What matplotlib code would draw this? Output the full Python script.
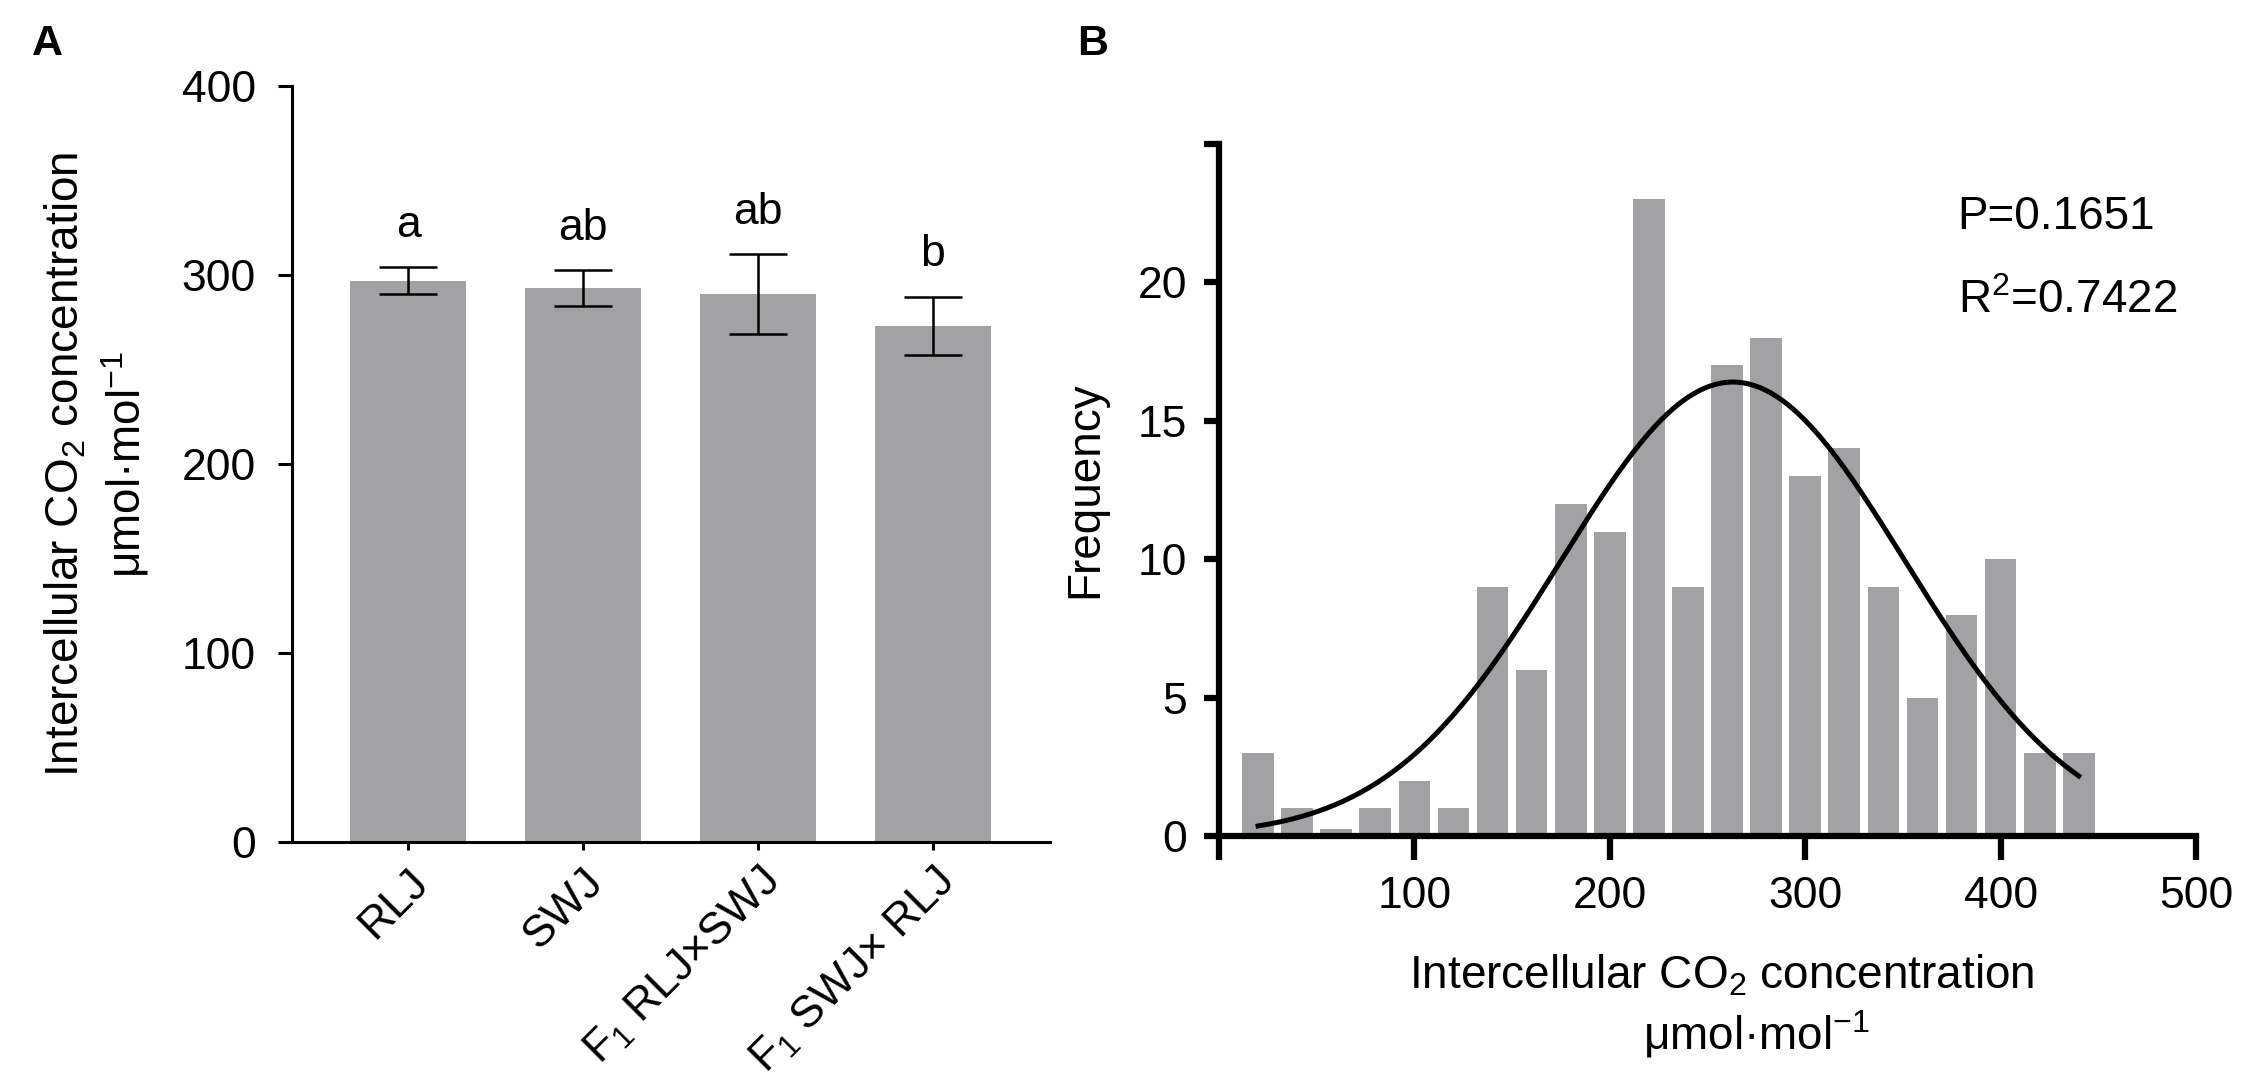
import numpy as np
import matplotlib
matplotlib.use("Agg")
import matplotlib.pyplot as plt
import matplotlib.transforms as mtrans

plt.rcParams['font.family'] = ['Liberation Sans', 'DejaVu Sans']
plt.rcParams['mathtext.fontset'] = 'custom'
plt.rcParams['mathtext.rm'] = 'Liberation Sans'
plt.rcParams['mathtext.it'] = 'Liberation Sans:italic'
plt.rcParams['mathtext.bf'] = 'Liberation Sans:bold'

# panel A: means, errors and letters
groups = ['RLJ', 'SWJ', 'F$_1$ RLJ×SWJ', 'F$_1$ SWJ× RLJ']
means = [297, 293, 290, 273]
errs = [7, 9.5, 21, 15.5]
letters = ['a', 'ab', 'ab', 'b']

# panel B: histogram (bin centres, counts) and gaussian fit
bin_centers = [20, 40, 60, 80, 100, 120, 140, 160, 180, 200, 220,
               240, 260, 280, 300, 320, 340, 360, 380, 400, 420, 440]
counts = [3, 1, 0.25, 1, 2, 1, 9, 6, 12, 11, 23,
          9, 17, 18, 13, 14, 9, 5, 8, 10, 3, 3]
fit_amp, fit_mu, fit_sigma = 16.4, 263, 88
fit_range = (20, 440)
p_text = 'P=0.1651'
r2_text = 'R$^2$=0.7422'
xlab1 = 'Intercellular CO$_2$ concentration'
xlab2 = 'μmol·mol$^{-1}$'

bar_color = '#a2a2a5'
W, H = 2243, 1078
fig = plt.figure(figsize=(W / 100, H / 100), dpi=100)

# ---------- panel A ----------
axA = fig.add_axes([292 / W, 1 - 842 / H, (1050 - 292) / W, (842 - 86) / H])
x = np.arange(len(groups))
axA.bar(x, means, width=0.663, color=bar_color, zorder=1)
axA.errorbar(x, means, yerr=errs, fmt='none', ecolor='black',
             elinewidth=1.8, capsize=21, capthick=1.8, zorder=2)
for xi, m, e, l in zip(x, means, errs, letters):
    axA.text(xi, m + e + 16, l, ha='center', va='baseline', fontsize=32)
axA.set_xlim(-0.663, 3.669)
axA.set_ylim(0, 400)
axA.set_yticks([0, 100, 200, 300, 400])
axA.set_xticks(x)
axA.set_xticklabels(groups, rotation=45, ha='right', va='top',
                    rotation_mode='anchor', fontsize=32)
off = mtrans.ScaledTranslation(2 / 100, 0, fig.dpi_scale_trans)
for lab in axA.get_xticklabels():
    lab.set_transform(lab.get_transform() + off)
for s in ['top', 'right']:
    axA.spines[s].set_visible(False)
for s in ['left', 'bottom']:
    axA.spines[s].set_linewidth(2.2)
axA.tick_params(axis='y', labelsize=32, width=2.2, length=10, pad=16)
axA.tick_params(axis='x', width=2.2, length=6, pad=8)
axA.set_ylabel('Intercellular CO$_2$ concentration\nμmol·mol$^{-1}$',
               fontsize=33, linespacing=1.25, labelpad=22)
fig.text(47 / W, 1 - 44 / H, 'A', fontsize=31, fontweight='bold',
         ha='center', va='center')

# ---------- panel B ----------
axB = fig.add_axes([1219 / W, 1 - 836 / H, (2196 - 1219) / W, (836 - 144) / H])
axB.bar(bin_centers, counts, width=16.2, color=bar_color, zorder=1)
xf = np.linspace(fit_range[0], fit_range[1], 300)
yf = fit_amp * np.exp(-(xf - fit_mu) ** 2 / (2 * fit_sigma ** 2))
axB.plot(xf, yf, color='black', lw=3.6, zorder=2)
axB.set_xlim(0, 500)
axB.set_ylim(0, 25)
axB.set_xticks([0, 100, 200, 300, 400, 500])
axB.set_xticklabels(['', '100', '200', '300', '400', '500'])
axB.set_yticks([0, 5, 10, 15, 20, 25])
axB.set_yticklabels(['0', '5', '10', '15', '20', ''])
for s in ['top', 'right']:
    axB.spines[s].set_visible(False)
for s in ['left', 'bottom']:
    axB.spines[s].set_linewidth(4.5)
axB.tick_params(axis='y', labelsize=32, width=4.5, length=11, pad=12)
axB.tick_params(axis='x', labelsize=32, width=4.5, length=17, pad=12)
axB.set_ylabel('Frequency', fontsize=33, labelpad=22)
axB.text(0.515, -0.2197, xlab1, transform=axB.transAxes, fontsize=33,
         ha='center', va='baseline')
axB.text(0.55, -0.309, xlab2, transform=axB.transAxes, fontsize=33,
         ha='center', va='baseline')
axB.text(378, 21.93, p_text, fontsize=33, va='baseline', ha='left')
axB.text(378, 18.9, r2_text, fontsize=33, va='baseline', ha='left')
fig.text(1093 / W, 1 - 44 / H, 'B', fontsize=31, fontweight='bold',
         ha='center', va='center')

fig.savefig('out.png', dpi=100)
